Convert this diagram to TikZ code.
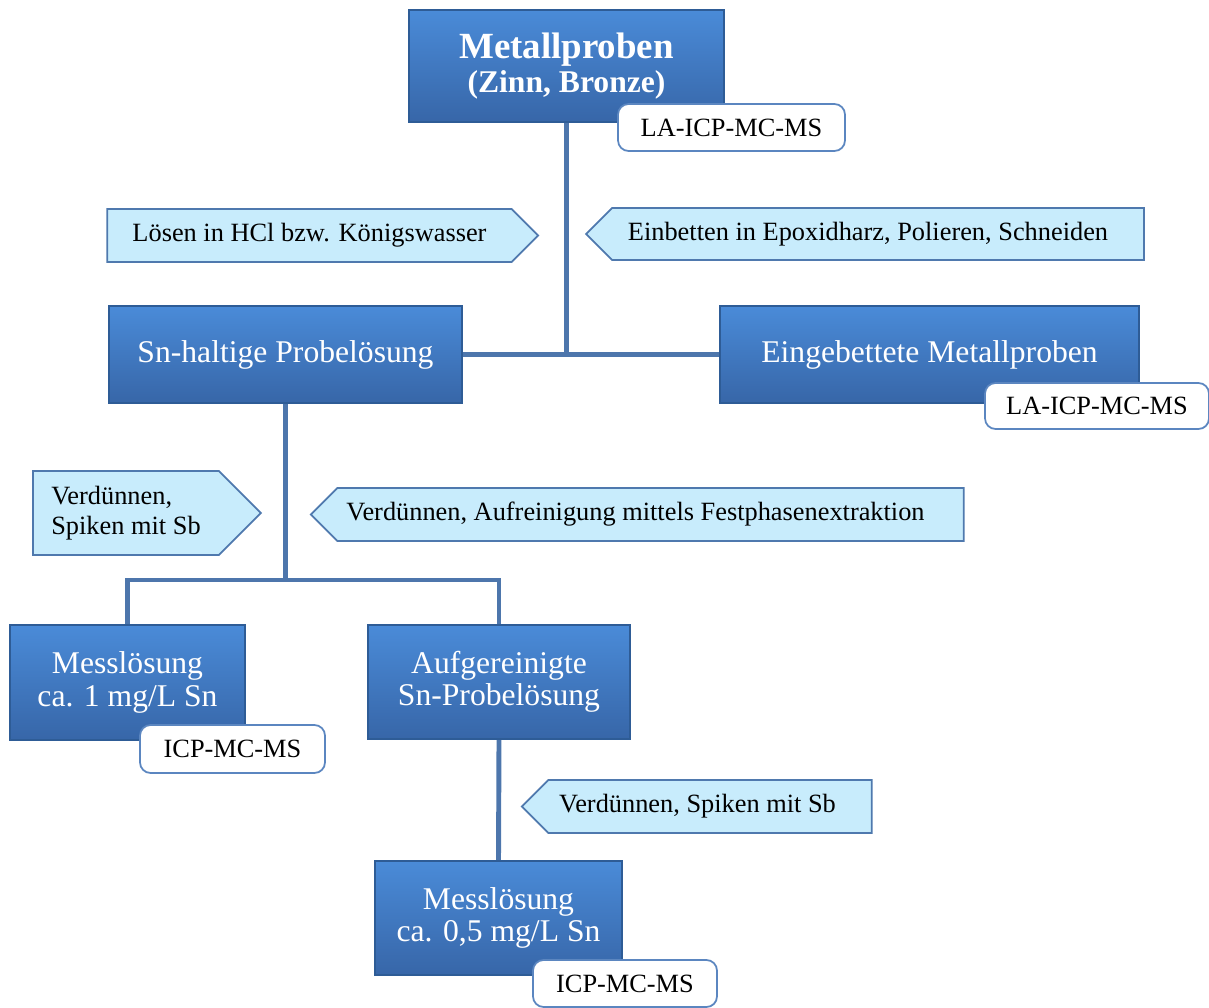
\documentclass[tikz,border=0pt]{standalone}
\usepackage{fontspec}
\setmainfont{Liberation Serif}
\usetikzlibrary{shapes.symbols, positioning, backgrounds}
\definecolor{boxtop}{HTML}{4A8BD8}
\definecolor{boxbot}{HTML}{3766A8}
\definecolor{boxedge}{HTML}{2E5C96}
\definecolor{stepfill}{HTML}{C8ECFC}
\definecolor{stepedge}{HTML}{4F79AE}
\definecolor{lineblue}{HTML}{4D76AC}
\definecolor{tagedge}{HTML}{5B86C0}
\tikzstyle{sample_node} = [rectangle, draw=boxedge, line width=0.8pt, top color=boxtop, bottom color=boxbot, text=white, align=center, font=\fontsize{18}{18.5}\selectfont]
\tikzstyle{step_arrow} = [signal, signal pointer angle=90, draw=stepedge, line width=1pt, fill=stepfill, align=left, font=\fontsize{15}{17}\selectfont]
\tikzstyle{method_tag} = [rectangle, rounded corners=6pt, draw=tagedge, line width=1pt, fill=white, font=\fontsize{15}{17}\selectfont]
\tikzstyle{branch_line} = [line width=2.8pt, draw=lineblue]

\begin{document}
\begin{tikzpicture}[x=0.02cm, y=-0.02cm]
    \useasboundingbox (0,0) rectangle (1209,1007);

    % Proben
    \node (metal) [sample_node, minimum width=6.3cm, minimum height=2.24cm, font=\bfseries\fontsize{21}{19}\selectfont] at (566.5,66) {Metallproben\\{\fontsize{18}{18}\selectfont (Zinn, Bronze)}};
    \node (loesung) [sample_node, minimum width=7.06cm, minimum height=1.94cm] at (285.5,354.5) {Sn-haltige Probelösung};
    \node (eingebettet) [sample_node, minimum width=8.38cm, minimum height=1.94cm] at (929.5,354.5) {Eingebettete Metallproben};
    \node (mess1) [sample_node, minimum width=4.7cm, minimum height=2.3cm] at (127.5,682.5) {Messlösung\\ca. 1 mg/L Sn};
    \node (gereinigt) [sample_node, minimum width=5.24cm, minimum height=2.28cm] at (499,682) {Aufgereinigte\\Sn-Probelösung};
    \node (mess2) [sample_node, minimum width=4.94cm, minimum height=2.28cm] at (498.5,918) {Messlösung\\ca. 0,5 mg/L Sn};

    % Messmethoden
    \node (tag_metal) [method_tag, minimum width=4.54cm, minimum height=0.94cm] at (731.5,127.5) {LA-ICP-MC-MS};
    \node (tag_eing) [method_tag, minimum width=4.48cm, minimum height=0.92cm] at (1097,406) {LA-ICP-MC-MS};
    \node (tag_mess1) [method_tag, minimum width=3.7cm, minimum height=0.96cm] at (232.5,749) {ICP-MC-MS};
    \node (tag_mess2) [method_tag, minimum width=3.68cm, minimum height=0.94cm] at (625,983.5) {ICP-MC-MS};

    % Arbeitsschritte (Mitte = Mitte des Rumpfs)
    \node (s_loesen) [step_arrow, signal to=east, minimum width=8.62cm, minimum height=1.06cm] at (309.5,235.5) {Lösen in HCl bzw. Königswasser};
    \node (s_einbetten) [step_arrow, signal to=west, minimum width=11.16cm, minimum height=1.04cm] at (878,234) {Einbetten in Epoxidharz, Polieren, Schneiden\hspace*{0.4cm}};
    \node (s_spiken1) [step_arrow, signal to=east, minimum width=4.56cm, minimum height=1.68cm] at (126,513) {Verdünnen,\\Spiken mit Sb};
    \node (s_spe) [step_arrow, signal to=west, minimum width=13.06cm, minimum height=1.06cm] at (650.5,514.5) {Verdünnen, Aufreinigung mittels Festphasenextraktion\hspace*{0.6cm}};
    \node (s_spiken2) [step_arrow, signal to=west, minimum width=7cm, minimum height=1.06cm] at (710,806.5) {Verdünnen, Spiken mit Sb\hspace*{0.5cm}};

    \coordinate (split) at (285.5,580);

    \begin{scope}[on background layer]
        \draw [branch_line] (metal.south) -- (metal.south |- loesung.east);
        \draw [branch_line] (loesung.east) -- (eingebettet.west);
        \draw [branch_line] (loesung.south) -- (split);
        \draw [branch_line] (mess1.north) |- (split) -| (gereinigt.north);
        \draw [branch_line] (gereinigt.south) -- (mess2.north);
    \end{scope}
\end{tikzpicture}
\end{document}
